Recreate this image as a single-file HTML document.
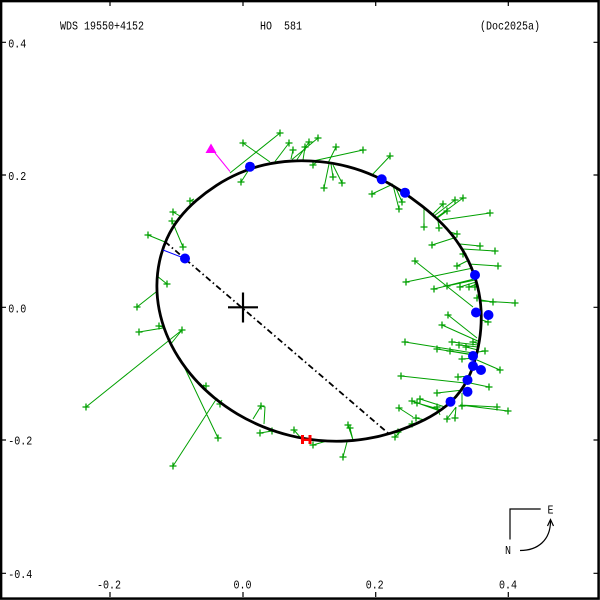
<!DOCTYPE html>
<html><head><meta charset="utf-8"><style>
html,body{margin:0;padding:0;background:#fff}
svg{display:block}
text{font-family:"Liberation Mono","DejaVu Sans Mono",monospace;font-size:12px;fill:#000}
</style></head><body>
<svg width="600" height="600" viewBox="0 0 600 600" xmlns="http://www.w3.org/2000/svg">
<rect x="0" y="0" width="600" height="600" fill="#fff"/>
<rect x="1.1" y="1.1" width="597.5" height="597.5" fill="none" stroke="#000" stroke-width="2.5"/>
<path d="M110,2v4M243,2v4M375.7,2v4M508.3,2v4M110,592v5M243,592v5M375.7,592v5M508.3,592v5M2,42.3h4M2,175h4M2,307.3h4M2,440h4M2,573.3h4M593.5,42.3h4M593.5,175h4M593.5,307.3h4M593.5,440h4M593.5,573.3h4" stroke="#000" stroke-width="1.2" fill="none"/>
<text x="60" y="29.3" textLength="84" lengthAdjust="spacingAndGlyphs">WDS 19550+4152</text>
<text x="260" y="29.3" textLength="12" lengthAdjust="spacingAndGlyphs">HO</text>
<text x="284" y="29.3" textLength="18" lengthAdjust="spacingAndGlyphs">581</text>
<text x="480" y="29.3" textLength="60" lengthAdjust="spacingAndGlyphs">(Doc2025a)</text>
<text x="8.3" y="47.3" textLength="18" lengthAdjust="spacingAndGlyphs">0.4</text>
<text x="8.3" y="180" textLength="18" lengthAdjust="spacingAndGlyphs">0.2</text>
<text x="8.3" y="312.3" textLength="18" lengthAdjust="spacingAndGlyphs">0.0</text>
<text x="8.3" y="444.7" textLength="24" lengthAdjust="spacingAndGlyphs">-0.2</text>
<text x="8.3" y="578" textLength="24" lengthAdjust="spacingAndGlyphs">-0.4</text>
<text x="97" y="588.5" textLength="24" lengthAdjust="spacingAndGlyphs">-0.2</text>
<text x="233.5" y="588.5" textLength="18" lengthAdjust="spacingAndGlyphs">0.0</text>
<text x="365.7" y="588.5" textLength="18" lengthAdjust="spacingAndGlyphs">0.2</text>
<text x="499" y="588.5" textLength="18" lengthAdjust="spacingAndGlyphs">0.4</text>
<text x="547.5" y="513.5" textLength="6" lengthAdjust="spacingAndGlyphs">E</text>
<text x="505" y="554" textLength="6" lengthAdjust="spacingAndGlyphs">N</text>
<path d="M510,539.5V509H540.7" stroke="#000" stroke-width="1.2" fill="none"/>
<path d="M520,550.5C538,550.5 550.5,540 550.5,521" stroke="#000" stroke-width="1.2" fill="none"/>
<path d="M547.5,526L550.5,519.5L553.5,526" stroke="#000" stroke-width="1.2" fill="none"/>
<!-- green residual lines -->
<path stroke="#00a000" stroke-width="1" fill="none" d="M243,143L270,162M280,133L230,173M241,182L250,168M289,143L275,161.5M293,150L291,159M309,142L297,159.5M318,138L292,159.5M305,147L303,160M336,147L328,163M363,150L313,161M313,165L318,161M333,177L331,164M324,188L329,164M342,183L333,165M390,156L372,175M372,194L393,184M399,209L393,185M402,202L395,186M443,204L432,215M455,200L434,216M463,198L436,218M447,211L436,219M490,213L442,220M424,227L424,208M439,228L438,221M457,234L450,232M432,245L457,237M480,246L460,244M495,251L463,249M463,254L464,250M415,261L473,307M457,266L467,261M498,266L469,264M406,282L473,268M434,289L474,279M447,286L475,280M460,287L476,282M469,287L477,284M475,287L478,286M477,298L480,294M493,302L481,300M515,303L481,301M448,315L477,338M442,325L480,342M488,322L482,320M405,342L473,353M452,342L478,345M459,345L478,347M473,342L480,344M437,349L473,355M450,351L475,355M466,347L478,350M485,351L478,352M462,359L476,358M500,370L477,360M401,376L465,383M458,377L470,376M489,387L470,383M437,393L463,390M420,399L445,407M412,401L440,411M417,403L442,410M462,406L462,393M497,407L460,405M508,411L460,405M399,408L413,417M437,407L440,415M416,418L425,420M412,424L420,422M447,419L456,407M455,418L456,407M395,437L400,432M348,425L353,440M350,428L353,440M343,457L347,442M313,445L325,441.5M398,432L396,433M261,406L253,419M261,406L265,407L264,424M260,433L272,431M272,431L268,429M294,430L300,437M218,438L180,358M173,466L217,398M220,404L222,400M86,407L182,330M182,330L170,345M173,212L180,216M172,221L183,247M148,235L165,242M167,284L157,276M137,307L156,292M159,326L163,327M139,332L163,328M190,201L194,199M206,386L203,385"/>
<!-- green crosses -->
<path stroke="#00a000" stroke-width="1.3" fill="none" d="M239.5,143h7M243,139.5v7M276.5,133h7M280,129.5v7M237.5,182h7M241,178.5v7M285.5,143h7M289,139.5v7M289.5,150h7M293,146.5v7M305.5,142h7M309,138.5v7M314.5,138h7M318,134.5v7M301.5,147h7M305,143.5v7M332.5,147h7M336,143.5v7M359.5,150h7M363,146.5v7M309.5,165h7M313,161.5v7M329.5,177h7M333,173.5v7M320.5,188h7M324,184.5v7M338.5,183h7M342,179.5v7M386.5,156h7M390,152.5v7M368.5,194h7M372,190.5v7M395.5,209h7M399,205.5v7M398.5,202h7M402,198.5v7M439.5,204h7M443,200.5v7M451.5,200h7M455,196.5v7M459.5,198h7M463,194.5v7M443.5,211h7M447,207.5v7M486.5,213h7M490,209.5v7M420.5,227h7M424,223.5v7M435.5,228h7M439,224.5v7M453.5,234h7M457,230.5v7M428.5,245h7M432,241.5v7M476.5,246h7M480,242.5v7M491.5,251h7M495,247.5v7M459.5,254h7M463,250.5v7M411.5,261h7M415,257.5v7M453.5,266h7M457,262.5v7M494.5,266h7M498,262.5v7M402.5,282h7M406,278.5v7M430.5,289h7M434,285.5v7M443.5,286h7M447,282.5v7M456.5,287h7M460,283.5v7M465.5,287h7M469,283.5v7M471.5,287h7M475,283.5v7M473.5,298h7M477,294.5v7M489.5,302h7M493,298.5v7M511.5,303h7M515,299.5v7M444.5,315h7M448,311.5v7M438.5,325h7M442,321.5v7M484.5,322h7M488,318.5v7M401.5,342h7M405,338.5v7M448.5,342h7M452,338.5v7M455.5,345h7M459,341.5v7M469.5,342h7M473,338.5v7M433.5,349h7M437,345.5v7M446.5,351h7M450,347.5v7M462.5,347h7M466,343.5v7M481.5,351h7M485,347.5v7M458.5,359h7M462,355.5v7M496.5,370h7M500,366.5v7M397.5,376h7M401,372.5v7M454.5,377h7M458,373.5v7M485.5,387h7M489,383.5v7M433.5,393h7M437,389.5v7M416.5,399h7M420,395.5v7M408.5,401h7M412,397.5v7M413.5,403h7M417,399.5v7M458.5,406h7M462,402.5v7M493.5,407h7M497,403.5v7M504.5,411h7M508,407.5v7M395.5,408h7M399,404.5v7M433.5,407h7M437,403.5v7M412.5,418h7M416,414.5v7M408.5,424h7M412,420.5v7M443.5,419h7M447,415.5v7M451.5,418h7M455,414.5v7M391.5,437h7M395,433.5v7M344.5,425h7M348,421.5v7M346.5,428h7M350,424.5v7M339.5,457h7M343,453.5v7M309.5,445h7M313,441.5v7M394.5,432h7M398,428.5v7M257.5,406h7M261,402.5v7M256.5,433h7M260,429.5v7M268.5,431h7M272,427.5v7M290.5,430h7M294,426.5v7M214.5,438h7M218,434.5v7M169.5,466h7M173,462.5v7M216.5,404h7M220,400.5v7M82.5,407h7M86,403.5v7M178.5,330h7M182,326.5v7M169.5,212h7M173,208.5v7M168.5,221h7M172,217.5v7M144.5,235h7M148,231.5v7M179.5,247h7M183,243.5v7M163.5,284h7M167,280.5v7M133.5,307h7M137,303.5v7M155.5,326h7M159,322.5v7M135.5,332h7M139,328.5v7M186.5,201h7M190,197.5v7M202.5,386h7M206,382.5v7"/>
<!-- orbit (smooth) -->
<path stroke="#000" stroke-width="2.8" fill="none" stroke-linejoin="round" d="M479.35,340.8Q477.4,352.8 473.65,364.5Q469.9,376.2 463.3,386.8Q456.7,397.4 446.6,405.6Q436.5,413.8 424.55,419.75Q412.6,425.7 399.9,430.15Q387.2,434.6 373.8,437.4Q360.4,440.2 346.4,440.95Q332.4,441.7 318.25,440.35Q304.1,439.0 290.15,435.55Q276.2,432.1 262.85,426.65Q249.5,421.2 237.25,413.9Q225.0,406.6 214.2,397.7Q203.4,388.8 194.35,378.6Q185.3,368.4 178.25,357.15Q171.2,345.9 166.4,334.0Q161.6,322.1 159.2,309.85Q156.8,297.6 156.9,285.4Q157.0,273.2 159.5,261.45Q162.0,249.7 166.9,238.7Q171.8,227.7 179.4,218.1Q187.0,208.5 196.4,200.4Q205.8,192.3 216.45,185.4Q227.1,178.5 239.1,173.25Q251.1,168.0 264.35,164.9Q277.6,161.8 291.6,161.05Q305.6,160.3 319.75,161.65Q333.9,163.0 347.85,166.6Q361.8,170.2 374.75,176.15Q387.7,182.1 399.4,189.8Q411.1,197.5 422.0,206.0Q432.9,214.5 442.5,224.2Q452.1,233.9 459.4,245.0Q466.7,256.1 471.55,268.0Q476.4,279.9 478.8,292.15Q481.2,304.4 481.25,316.6Q481.3,328.8 479.35,340.8Z"/>
<!-- line of nodes -->
<path d="M165,241.7L388.3,433.3" stroke="#000" stroke-width="1.8" fill="none" stroke-dasharray="6 3 1.5 3"/>
<!-- primary -->
<path d="M228,307.3H258M243,292.5V322.5" stroke="#000" stroke-width="2.2" fill="none"/>
<!-- magenta -->
<path d="M215,153L230,171.5" stroke="#ff00ff" stroke-width="1" fill="none"/>
<polygon points="211,143.5 205.5,153 216.5,153" fill="#ff00ff"/>
<!-- red marker -->
<g fill="#ff0000"><rect x="301" y="435" width="3" height="9"/><rect x="308.5" y="435" width="3" height="9"/><rect x="301" y="438.5" width="10.5" height="2.5"/></g>
<!-- blue -->
<path d="M163,250L185,258.5" stroke="#0000ff" stroke-width="1" fill="none"/>
<g fill="#0000ff">
<circle cx="250" cy="166.7" r="5"/>
<circle cx="381.7" cy="179.3" r="5"/>
<circle cx="405" cy="192.7" r="5"/>
<circle cx="185" cy="258.5" r="5"/>
<circle cx="475" cy="275" r="5"/>
<circle cx="476" cy="312.5" r="5"/>
<circle cx="488.5" cy="315" r="5"/>
<circle cx="473" cy="356" r="5"/>
<circle cx="473" cy="366" r="5"/>
<circle cx="481" cy="370" r="5"/>
<circle cx="467.5" cy="380" r="5"/>
<circle cx="467.5" cy="391.7" r="5"/>
<circle cx="450.5" cy="401.7" r="5"/>
</g>
</svg>
</body></html>
